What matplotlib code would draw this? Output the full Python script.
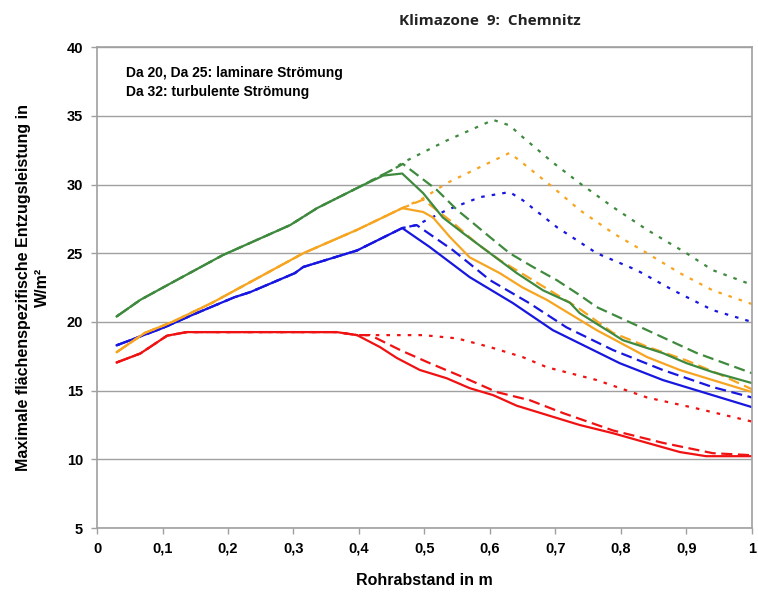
import matplotlib.pyplot as plt

# Rohrabstand (m) / Entzugsleistung (W/m2)
# rising part, shared by the three curves of one colour
green_rise_x = [0.03, 0.066, 0.116, 0.192, 0.295, 0.336, 0.397]
green_rise_y = [20.4, 21.6, 22.9, 24.86, 27.05, 28.28, 29.74]
orange_rise_x = [0.03, 0.073, 0.115, 0.176, 0.234, 0.315, 0.397]
orange_rise_y = [17.8, 19.2, 20.0, 21.4, 22.9, 25.0, 26.7]
blue_rise_x = [0.03, 0.1, 0.15, 0.21, 0.234, 0.302, 0.315, 0.397]
blue_rise_y = [18.3, 19.55, 20.6, 21.8, 22.17, 23.55, 24.0, 25.2]
red_rise_x = [0.03, 0.066, 0.107, 0.137, 0.366, 0.397]
red_rise_y = [17.05, 17.7, 19.0, 19.26, 19.26, 19.04]

# tails after the rise: solid / dashed / dotted
green_solid_x = [0.437, 0.466, 0.498, 0.528, 0.559, 0.6, 0.641, 0.681, 0.722, 0.737, 0.803, 0.84, 0.864, 0.9, 0.94, 1.0]
green_solid_y = [30.65, 30.8, 29.37, 27.6, 26.46, 25.0, 23.55, 22.3, 21.4, 20.64, 18.67, 18.1, 17.73, 17.0, 16.35, 15.55]
green_dash_x = [0.452, 0.467, 0.519, 0.55, 0.569, 0.6, 0.63, 0.666, 0.702, 0.737, 0.763, 0.84, 0.916, 1.0]
green_dash_y = [31.1, 31.5, 29.6, 28.14, 27.4, 26.17, 25.0, 23.99, 23.04, 21.95, 21.08, 19.4, 17.73, 16.27]
green_dot_x = [0.452, 0.467, 0.534, 0.605, 0.63, 0.65, 0.696, 0.737, 0.788, 0.84, 0.9, 0.94, 1.0]
green_dot_y = [31.1, 31.6, 33.2, 34.7, 34.3, 33.45, 31.6, 30.1, 28.35, 26.7, 25.0, 23.77, 22.7]

orange_solid_x = [0.466, 0.498, 0.513, 0.539, 0.569, 0.615, 0.65, 0.687, 0.763, 0.84, 0.89, 0.94, 1.0]
orange_solid_y = [28.28, 28.0, 27.6, 26.17, 24.7, 23.55, 22.5, 21.6, 19.4, 17.44, 16.5, 15.77, 14.9]
orange_dash_x = [0.466, 0.498, 0.544, 0.58, 0.615, 0.66, 0.733, 0.788, 0.84, 0.9, 0.95, 1.0]
orange_dash_y = [28.28, 28.9, 27.2, 25.7, 24.5, 23.2, 21.08, 19.2, 18.2, 17.2, 16.2, 15.1]
orange_dot_x = [0.466, 0.498, 0.534, 0.585, 0.63, 0.65, 0.696, 0.737, 0.788, 0.84, 0.89, 0.94, 1.0]
orange_dot_y = [28.28, 29.0, 30.1, 31.27, 32.3, 31.56, 29.8, 28.14, 26.46, 25.0, 23.55, 22.3, 21.3]

blue_solid_x = [0.466, 0.508, 0.569, 0.635, 0.696, 0.798, 0.864, 1.0]
blue_solid_y = [26.83, 25.45, 23.26, 21.37, 19.4, 17.0, 15.77, 13.8]
blue_dash_x = [0.466, 0.488, 0.544, 0.6, 0.66, 0.717, 0.788, 0.864, 0.94, 1.0]
blue_dash_y = [26.83, 27.05, 25.2, 23.04, 21.37, 19.6, 17.95, 16.5, 15.26, 14.5]
blue_dot_x = [0.466, 0.488, 0.534, 0.585, 0.63, 0.65, 0.702, 0.763, 0.824, 0.88, 0.94, 1.0]
blue_dot_y = [26.83, 27.05, 28.14, 29.08, 29.45, 28.86, 26.9, 25.0, 23.77, 22.3, 20.86, 20.0]

red_solid_x = [0.432, 0.458, 0.493, 0.534, 0.569, 0.605, 0.641, 0.737, 0.788, 0.84, 0.89, 0.93, 1.0]
red_solid_y = [18.17, 17.37, 16.5, 15.9, 15.18, 14.67, 13.9, 12.5, 11.9, 11.2, 10.53, 10.23, 10.23]
red_dash_x = [0.417, 0.463, 0.508, 0.559, 0.61, 0.661, 0.712, 0.788, 0.864, 0.94, 1.0]
red_dash_y = [19.04, 17.95, 17.0, 15.98, 14.9, 14.3, 13.36, 12.1, 11.2, 10.45, 10.3]
red_dot_x = [0.417, 0.498, 0.55, 0.6, 0.65, 0.687, 0.763, 0.84, 0.916, 1.0]
red_dot_y = [19.04, 19.04, 18.8, 18.17, 17.44, 16.7, 15.77, 14.5, 13.7, 12.75]

x_ticks = [0, 0.1, 0.2, 0.3, 0.4, 0.5, 0.6, 0.7, 0.8, 0.9, 1]
x_labels = ["0", "0,1", "0,2", "0,3", "0,4", "0,5", "0,6", "0,7", "0,8", "0,9", "1"]
y_ticks = [5, 10, 15, 20, 25, 30, 35, 40]

colors = {"green": "#3f8a3f", "orange": "#f7a521", "blue": "#1717e0", "red": "#f01212"}
solid = "-"
dashed = (0, (5, 2.5))
dotted = (0, (1.6, 3.2))

series = [
    ("red", red_rise_x, red_rise_y, red_solid_x, red_solid_y, red_dash_x, red_dash_y, red_dot_x, red_dot_y),
    ("blue", blue_rise_x, blue_rise_y, blue_solid_x, blue_solid_y, blue_dash_x, blue_dash_y, blue_dot_x, blue_dot_y),
    ("orange", orange_rise_x, orange_rise_y, orange_solid_x, orange_solid_y, orange_dash_x, orange_dash_y, orange_dot_x, orange_dot_y),
    ("green", green_rise_x, green_rise_y, green_solid_x, green_solid_y, green_dash_x, green_dash_y, green_dot_x, green_dot_y),
]

plt.rcParams['font.family'] = ['Liberation Sans', 'DejaVu Sans']
fig = plt.figure(figsize=(7.58, 5.96), dpi=100)
ax = fig.add_axes([0.128, 0.114, 0.864, 0.807])

for name, rx, ry, sx, sy, dx, dy, px, py in series:
    c = colors[name]
    ax.plot(rx + px, ry + py, color=c, lw=1.6, linestyle=dotted)
    ax.plot(rx + dx, ry + dy, color=c, lw=1.6, linestyle=dashed)
    ax.plot(rx + sx, ry + sy, color=c, lw=1.6, linestyle=solid)

ax.set_xlim(0, 1)
ax.set_ylim(5, 40)
ax.set_xticks(x_ticks)
ax.set_xticklabels(x_labels)
ax.set_yticks(y_ticks)
ax.yaxis.grid(True, color="#a0a0a0", lw=1)
ax.set_axisbelow(True)
for s in ax.spines.values():
    s.set_color("#a0a0a0")
    s.set_linewidth(1.2)
ax.tick_params(axis="both", direction="out", length=4, color="#a0a0a0", width=1,
               labelsize=10.5, pad=6)
for lab in ax.get_xticklabels() + ax.get_yticklabels():
    lab.set_fontweight("bold")

ax.set_xlabel("Rohrabstand in m", fontsize=11.5, fontweight="bold", labelpad=12)
ax.set_ylabel("Maximale flächenspezifische Entzugsleistung in\nW/m²", fontsize=11.5,
              fontweight="bold", labelpad=12, linespacing=1.3)

ax.text(0.045, 0.96, "Da 20, Da 25: laminare Strömung\nDa 32: turbulente Strömung",
        transform=ax.transAxes, fontsize=10, fontweight="bold", va="top", linespacing=1.45)

fig.text(0.646, 0.965, "Klimazone  9:  Chemnitz", ha="center", va="center",
         fontsize=11, fontweight="bold", family=["Open Sans", "DejaVu Sans"], color="#222222")

fig.savefig("out.png", dpi=100)
